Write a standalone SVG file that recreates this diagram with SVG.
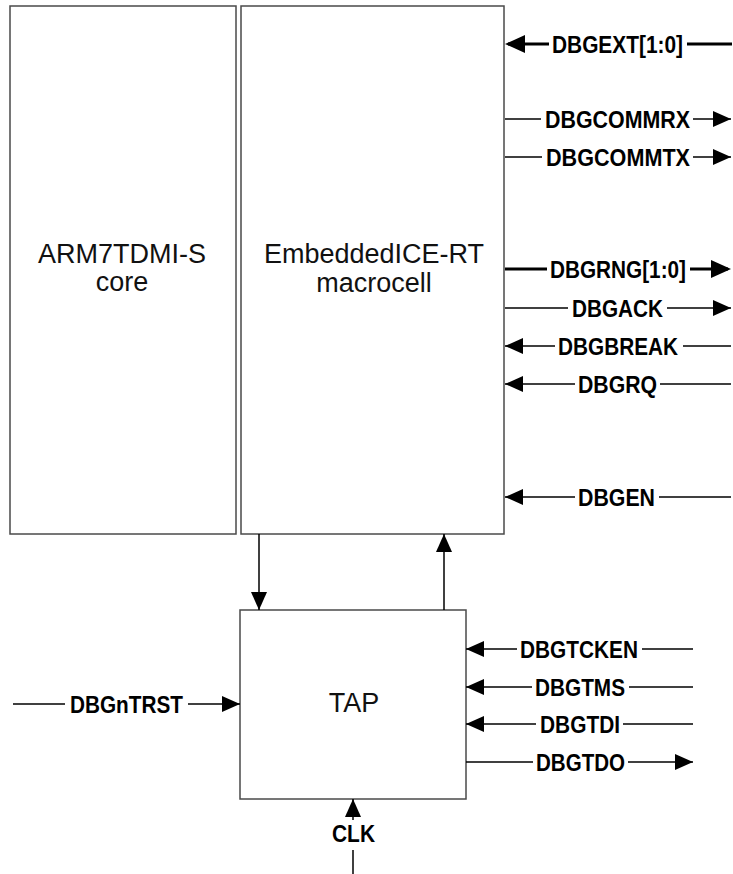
<svg xmlns="http://www.w3.org/2000/svg" width="733" height="874" viewBox="0 0 733 874">
<style>
.box{fill:#fff;stroke:#4a4a4a;stroke-width:1.5}
.big{font-family:"Liberation Sans",Arial,sans-serif;font-size:27px;fill:#111;text-anchor:middle}
.lbl{font-family:"Liberation Sans",Arial,sans-serif;font-size:23.5px;font-weight:bold;fill:#000}
.w{stroke:#000;stroke-width:1.5;fill:none}
.t{stroke:#000;stroke-width:3;fill:none}
.a{marker-end:url(#ah)}
.at{marker-end:url(#aht)}
</style>
<defs>
<marker id="ah" markerUnits="userSpaceOnUse" markerWidth="19" markerHeight="17" refX="18" refY="8" orient="auto" overflow="visible"><path d="M0,0 L18,8 L0,16 z" fill="#000"/></marker>
<marker id="aht" markerUnits="userSpaceOnUse" markerWidth="22" markerHeight="19" refX="17" refY="9" orient="auto" overflow="visible"><path d="M0,0 L20,9 L0,18 z" fill="#000"/></marker>
</defs>

<g id="core"><rect class="box" x="10" y="6" width="226" height="528"/><text class="big" x="122" y="263">ARM7TDMI-S</text><text class="big" x="122" y="291">core</text></g>
<g id="ice"><rect class="box" x="241" y="6" width="263" height="528"/><text class="big" x="374" y="263">EmbeddedICE-RT</text><text class="big" x="374" y="292">macrocell</text></g>
<g id="tap"><rect class="box" x="240" y="610" width="226" height="189"/><text class="big" x="354" y="712">TAP</text></g>

<g id="connectors">
<path class="w a" d="M259,534 V610"/>
<path class="w a" d="M444,610 V534"/>
<path class="t at" d="M549,44 H508"/><path class="t" d="M687,44 H732"/>
<path class="w" d="M505,119 H541"/><path class="w a" d="M693,119 H731"/>
<path class="w" d="M505,157 H542"/><path class="w a" d="M693,157 H731"/>
<path class="t" d="M505,269 H547"/><path class="t at" d="M690,269 H728"/>
<path class="w" d="M505,308 H568"/><path class="w a" d="M667,308 H731"/>
<path class="w a" d="M555,346 H505"/><path class="w" d="M683,346 H731"/>
<path class="w a" d="M575,384 H505"/><path class="w" d="M660,384 H731"/>
<path class="w a" d="M575,497 H505"/><path class="w" d="M659,497 H731"/>
<path class="w a" d="M517,649 H466"/><path class="w" d="M642,649 H693"/>
<path class="w a" d="M532,687 H466"/><path class="w" d="M629,687 H693"/>
<path class="w a" d="M536,724 H466"/><path class="w" d="M623,724 H693"/>
<path class="w" d="M466,762 H533"/><path class="w a" d="M628,762 H693"/>
<path class="w" d="M13,704 H65"/><path class="w a" d="M188,704 H240"/>
<path class="w a" d="M353,820 V799"/><path class="w" d="M353,850 V874"/>
</g>

<g id="labels">
<text class="lbl" x="552" y="52.5" textLength="131" lengthAdjust="spacingAndGlyphs">DBGEXT[1:0]</text>
<text class="lbl" x="545" y="127.5" textLength="145" lengthAdjust="spacingAndGlyphs">DBGCOMMRX</text>
<text class="lbl" x="546" y="165.5" textLength="144" lengthAdjust="spacingAndGlyphs">DBGCOMMTX</text>
<text class="lbl" x="550" y="277.5" textLength="136" lengthAdjust="spacingAndGlyphs">DBGRNG[1:0]</text>
<text class="lbl" x="572" y="316.5" textLength="91" lengthAdjust="spacingAndGlyphs">DBGACK</text>
<text class="lbl" x="558" y="354.5" textLength="120" lengthAdjust="spacingAndGlyphs">DBGBREAK</text>
<text class="lbl" x="578" y="392.5" textLength="79" lengthAdjust="spacingAndGlyphs">DBGRQ</text>
<text class="lbl" x="578" y="505.5" textLength="77" lengthAdjust="spacingAndGlyphs">DBGEN</text>
<text class="lbl" x="520" y="657.5" textLength="118" lengthAdjust="spacingAndGlyphs">DBGTCKEN</text>
<text class="lbl" x="535" y="695.5" textLength="90" lengthAdjust="spacingAndGlyphs">DBGTMS</text>
<text class="lbl" x="540" y="732.5" textLength="80" lengthAdjust="spacingAndGlyphs">DBGTDI</text>
<text class="lbl" x="536" y="770.5" textLength="89" lengthAdjust="spacingAndGlyphs">DBGTDO</text>
<text class="lbl" x="70" y="712.5" textLength="113" lengthAdjust="spacingAndGlyphs">DBGnTRST</text>
<text class="lbl" x="332" y="842" textLength="43" lengthAdjust="spacingAndGlyphs">CLK</text>
</g>
</svg>
